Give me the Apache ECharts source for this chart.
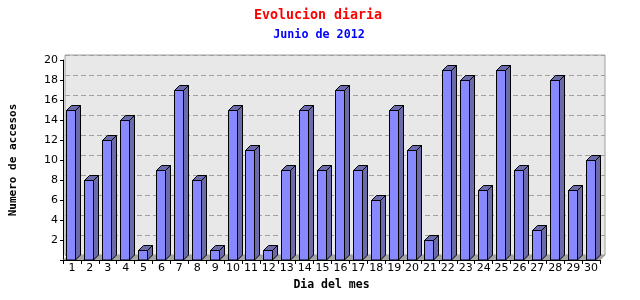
<!DOCTYPE html>
<html><head><meta charset="utf-8">
<script src="https://cdn.jsdelivr.net/npm/echarts@6/dist/echarts.min.js"></script>
<style>html,body{margin:0;padding:0;background:#fff}#c{width:640px;height:300px}</style>
</head><body><div id="c"></div>
<script>
var days = ['1','2','3','4','5','6','7','8','9','10','11','12','13','14','15','16','17','18','19','20','21','22','23','24','25','26','27','28','29','30'];
var visits = [15,8,12,14,1,9,17,8,1,15,11,1,9,15,9,17,9,6,15,11,2,19,18,7,19,9,3,18,7,10];
var yMin = 0, yMax = 20, yStep = 2;

var D = 5;
var data = visits.map(function(v,i){return [i, v];});

function floorItem(params, api){
  var c = api.coord([api.value(0), 0]);
  var band = api.size([1,0])[0];
  var xl = c[0]-band/2, xr = c[0]+band/2, y = c[1];
  return {type:'polygon', shape:{points:[[xl,y],[xr+0.5,y],[xr+0.5+D,y-D],[xl+D,y-D]]},
          style:{fill:'#a4a4a4', stroke:null}};
}
function barItem(params, api){
  var t = api.coord([api.value(0), api.value(1)]);
  var b = api.coord([api.value(0), 0]);
  var band = api.size([1,0])[0];
  var w = Math.round(band*0.52);
  var x0 = Math.round(t[0]-w/2)-0.5, x1 = x0+w;
  var yt = Math.round(t[1])+0.5, yb = Math.round(b[1]);
  var st = {stroke:'#000', lineWidth:1};
  return {type:'group', children:[
    {type:'polygon', shape:{points:[[x1,yt],[x1+D,yt-D],[x1+D,yb-D],[x1,yb]]},
     style:Object.assign({fill:'#6b6bab'}, st)},
    {type:'polygon', shape:{points:[[x0,yt],[x0+D,yt-D],[x1+D,yt-D],[x1,yt]]},
     style:Object.assign({fill:'#6b6bab'}, st)},
    {type:'rect', shape:{x:x0, y:yt, width:w, height:yb-yt},
     style:Object.assign({fill:'#8888ff'}, st)}
  ]};
}

var chart = echarts.init(document.getElementById('c'), null, {renderer:'canvas'});
chart.setOption({
  animation:false,
  backgroundColor:'#fff',
  title:[
    {text:'Evolucion diaria', left:313, top:4, textAlign:'center',
     textStyle:{color:'#ff0000', fontFamily:'DejaVu Sans Mono', fontSize:13.3, fontWeight:'bold'}},
    {text:'Junio de 2012', left:314, top:24, textAlign:'center',
     textStyle:{color:'#0000ff', fontFamily:'DejaVu Sans Mono', fontSize:11.7, fontWeight:'bold'}}
  ],
  grid:[
    {left:60, right:40, top:60, bottom:40, show:false},
    {left:65, right:35, top:55, bottom:45, show:true, backgroundColor:'#e8e8e8', borderColor:'#a0a0a0', borderWidth:1}
  ],
  xAxis:[
    {type:'category', gridIndex:0, data:days, boundaryGap:true,
     name:'Dia del mes', nameLocation:'middle', nameGap:19,
     nameTextStyle:{color:'#000', fontFamily:'DejaVu Sans Mono', fontWeight:'bold', fontSize:11.5},
     axisLine:{lineStyle:{color:'#000', width:1}},
     axisTick:{show:true, interval:0, length:4, lineStyle:{color:'#000'}},
     axisLabel:{interval:0, color:'#000', fontFamily:'DejaVu Sans', fontSize:11, margin:3}},
    {type:'category', gridIndex:1, data:days, show:false}
  ],
  yAxis:[
    {type:'value', gridIndex:0, min:yMin, max:yMax, interval:yStep,
     name:'Numero de accesos', nameLocation:'middle', nameGap:44, nameRotate:90,
     nameTextStyle:{color:'#000', fontFamily:'DejaVu Sans Mono', fontWeight:'bold', fontSize:11},
     axisLine:{show:true, lineStyle:{color:'#000'}},
     axisTick:{show:true, length:3, lineStyle:{color:'#000'}},
     splitLine:{show:false},
     axisLabel:{color:'#000', fontFamily:'DejaVu Sans', fontSize:11, margin:5,
       formatter:function(v){return v===0?'':String(v);}}},
    {type:'value', gridIndex:1, min:yMin, max:yMax, interval:yStep,
     axisLine:{show:false}, axisTick:{show:false}, axisLabel:{show:false},
     splitLine:{show:true, lineStyle:{color:'#a0a0a0', type:[5,3], width:1}}}
  ],
  series:[
    {type:'custom', xAxisIndex:0, yAxisIndex:0, data:data, renderItem:floorItem, z:1, silent:true},
    {type:'custom', xAxisIndex:0, yAxisIndex:0, data:data, renderItem:barItem, z:2, silent:true}
  ]
});
</script></body></html>
